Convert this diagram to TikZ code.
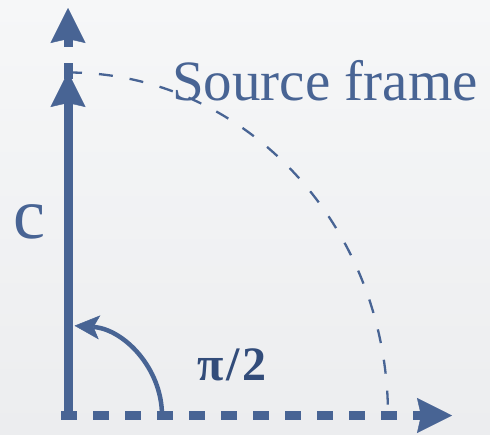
\documentclass[tikz,border=0pt]{standalone}
\usepackage{fontspec}
\setmainfont{Liberation Serif}
\usetikzlibrary{arrows.meta}
\definecolor{axisblue}{RGB}{72,100,148}
\definecolor{labelblue}{RGB}{50,76,122}
\definecolor{bgtop}{RGB}{246,247,248}
\definecolor{bgbot}{RGB}{236,237,239}
\tikzset{
  bigtip/.style={-{Stealth[length=35pt,width=35pt,inset=4pt,line width=0.4pt]}},
  smalltip/.style={-{Stealth[length=25pt,width=24pt,inset=6pt,line width=0.4pt]}},
  axisline/.style={draw=axisblue,line width=9pt,line cap=butt},
  dashaxis/.style={axisline,dash pattern=on 16pt off 16pt},
  framearc/.style={draw=axisblue,line width=2.3pt,dash pattern=on 14pt off 17pt},
  anglearrow/.style={draw=axisblue,line width=4.5pt},
  lbl/.style={text=axisblue,inner sep=0pt}
}
\begin{document}
\begin{tikzpicture}[x=1pt,y=-1pt]
\shade[top color=bgtop,bottom color=bgbot] (0,0) rectangle (490,434);
\useasboundingbox (0,0) rectangle (490,434);
% coordinates
\coordinate (O) at (68,415.5);
\coordinate (hstart) at (61,415.5);
\coordinate (htip) at (452,415.5);
\coordinate (vbot) at (68,419.5);
\coordinate (vtip) at (68,8);
\coordinate (ctip) at (68,72);
\coordinate (arcstart) at (68,72.5);
\coordinate (angstart) at (162,415.5);
% dashed axes
\draw[dashaxis,bigtip] (hstart) -- (htip);
\draw[dashaxis,dash phase=11pt,bigtip] (vbot) -- (vtip);
% solid c axis
\draw[axisline,bigtip] (vbot) -- (ctip);
% source frame arc
\draw[framearc] (arcstart) arc[start angle=90,end angle=0,x radius=320pt,y radius=343pt];
% angle arrow
\draw[anglearrow,smalltip] (angstart) arc[start angle=0,end angle=86,x radius=94pt,y radius=90pt];
% labels
\node[lbl,anchor=base west,font=\fontsize{57}{60}\selectfont] (src) at (172,100) {Source frame};
\node[lbl,anchor=base west,font=\fontsize{72}{74}\selectfont] (c) at (13,238) {c};
\node[lbl,text=labelblue,anchor=base west,font=\bfseries\fontsize{48}{50}\selectfont] (pi) at (197,380) {π\hspace{3pt}/\hspace{3pt}2};
\end{tikzpicture}
\end{document}
